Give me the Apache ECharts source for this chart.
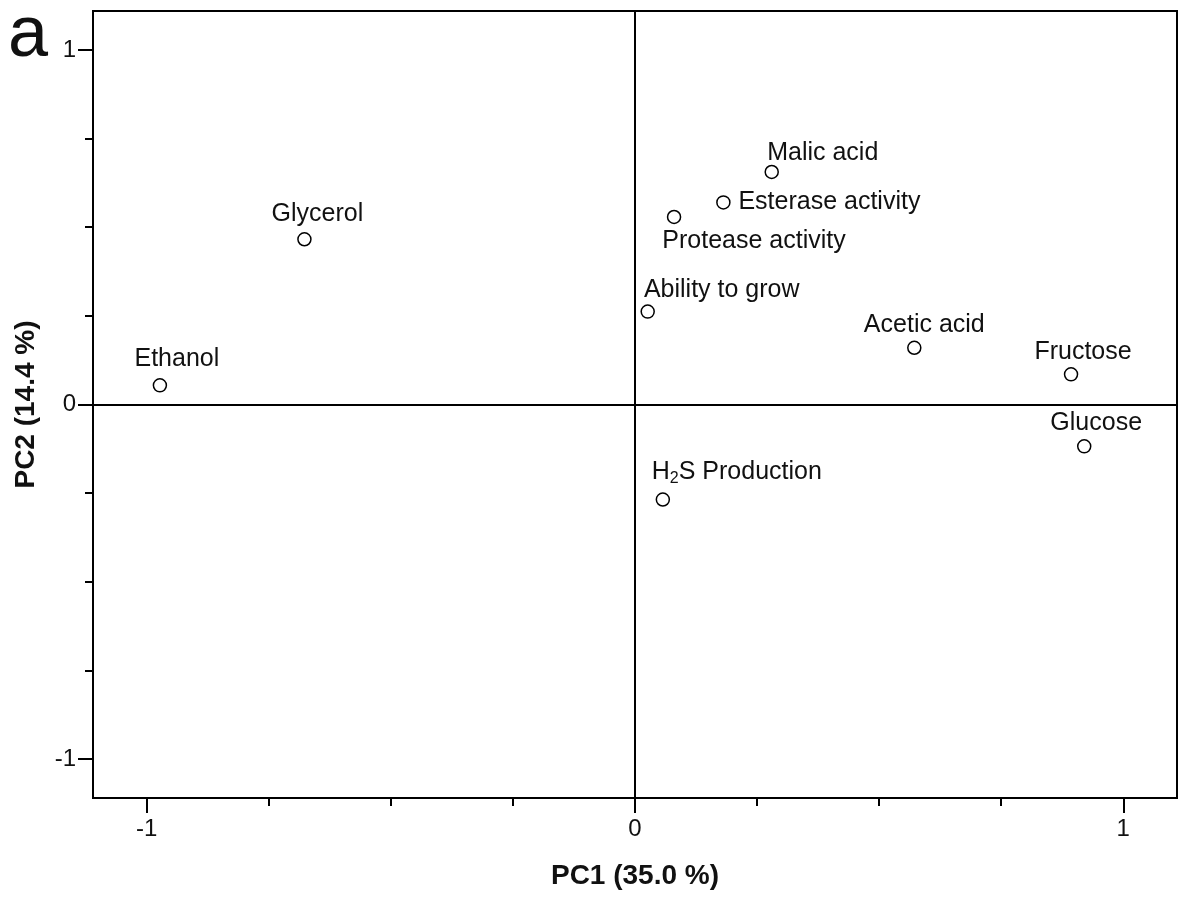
<!DOCTYPE html>
<html>
<head>
<meta charset="utf-8">
<title>PCA loadings</title>
<script src="https://cdn.jsdelivr.net/npm/echarts@6/dist/echarts.min.js"></script>
<style>
  html, body { margin: 0; padding: 0; background: #fff; }
  #chart { width: 1184px; height: 899px; }
</style>
</head>
<body>
<div id="chart"></div>
<script>
  // variables and their loadings on PC1 / PC2
  var names = ['Ethanol', 'Glycerol', 'Malic acid', 'Esterase activity', 'Protease activity',
    'Ability to grow', 'Acetic acid', 'Fructose', 'Glucose', 'H2S Production']
  var pc1 = [-0.973, -0.677, 0.280, 0.181, 0.080, 0.026, 0.572, 0.893, 0.920, 0.057]
  var pc2 = [0.054, 0.466, 0.656, 0.570, 0.529, 0.262, 0.160, 0.085, -0.118, -0.268]
  var majorTicks = [-1, 0, 1]
  var minorTicks = [-0.75, -0.5, -0.25, 0.25, 0.5, 0.75]

  // where each label sits relative to its marker, px
  var labelOffset = [[17, -26], [13, -25], [51, -19], [106, 0], [80, 24],
    [74, -22], [10, -23], [12, -22], [12, -23], [74, -27]]

  var FONT = '"Liberation Sans", Arial, sans-serif'
  var AXMIN = -1.11, AXMAX = 1.11

  var points = []
  for (var i = 0; i < names.length; i++) {
    points.push({
      name: names[i],
      value: [pc1[i], pc2[i]],
      label: { offset: labelOffset[i] }
    })
  }

  function majorAxis(extra) {
    return Object.assign({
      type: 'value',
      min: AXMIN,
      max: AXMAX,
      axisLine: { show: true, onZero: false, lineStyle: { color: '#000', width: 2 } },
      axisTick: { show: true, customValues: majorTicks, length: 15, lineStyle: { color: '#000', width: 2 } },
      splitLine: { show: false },
      nameLocation: 'middle',
      nameTextStyle: { fontSize: 28, fontWeight: 'bold', color: '#111', fontFamily: FONT }
    }, extra)
  }
  function minorAxis(extra) {
    return Object.assign({
      type: 'value',
      min: AXMIN,
      max: AXMAX,
      axisLine: { show: false, onZero: false },
      axisTick: { show: true, customValues: minorTicks, length: 8, lineStyle: { color: '#000', width: 2 } },
      axisLabel: { show: false },
      splitLine: { show: false }
    }, extra)
  }

  var chart = echarts.init(document.getElementById('chart'))
  chart.setOption({
    animation: false,
    textStyle: { fontFamily: FONT },
    graphic: [{
      type: 'text',
      left: 8,
      top: 0,
      style: { text: 'a', fontSize: 72, fill: '#111', fontFamily: FONT }
    }],
    grid: {
      left: 93,
      right: 7,
      top: 11,
      bottom: 101,
      show: true,
      borderColor: '#000',
      borderWidth: 2
    },
    xAxis: [
      majorAxis({ position: 'bottom', name: 'PC1 (35.0 %)', nameGap: 64, axisLabel: { customValues: majorTicks, margin: 19, fontSize: 24, color: '#111', fontFamily: FONT } }),
      minorAxis({ position: 'bottom' })
    ],
    yAxis: [
      majorAxis({ position: 'left', name: 'PC2 (14.4 %)', nameGap: 53, axisLabel: { customValues: majorTicks, margin: 17, fontSize: 24, color: '#111', fontFamily: FONT } }),
      minorAxis({ position: 'left' })
    ],
    series: [{
      type: 'scatter',
      xAxisIndex: 0,
      yAxisIndex: 0,
      symbol: 'circle',
      symbolSize: 13,
      itemStyle: { color: '#fff', borderColor: '#000', borderWidth: 1.5, opacity: 1 },
      label: {
        show: true,
        position: 'inside',
        align: 'center',
        verticalAlign: 'middle',
        fontSize: 25,
        color: '#111',
        fontFamily: FONT,
        formatter: function (p) {
          return p.name === 'H2S Production' ? 'H{s|2}S Production' : p.name
        },
        rich: {
          s: { fontSize: 16, color: '#111', fontFamily: FONT, padding: [12, 0, 0, 0] }
        }
      },
      emphasis: { disabled: true },
      markLine: {
        silent: true,
        symbol: 'none',
        label: { show: false },
        lineStyle: { color: '#000', width: 2, type: 'solid' },
        data: [{ xAxis: 0 }, { yAxis: 0 }]
      },
      z: 5,
      data: points
    }]
  })
  window.addEventListener('resize', function () {
    chart.resize()
  })
</script>
</body>
</html>
